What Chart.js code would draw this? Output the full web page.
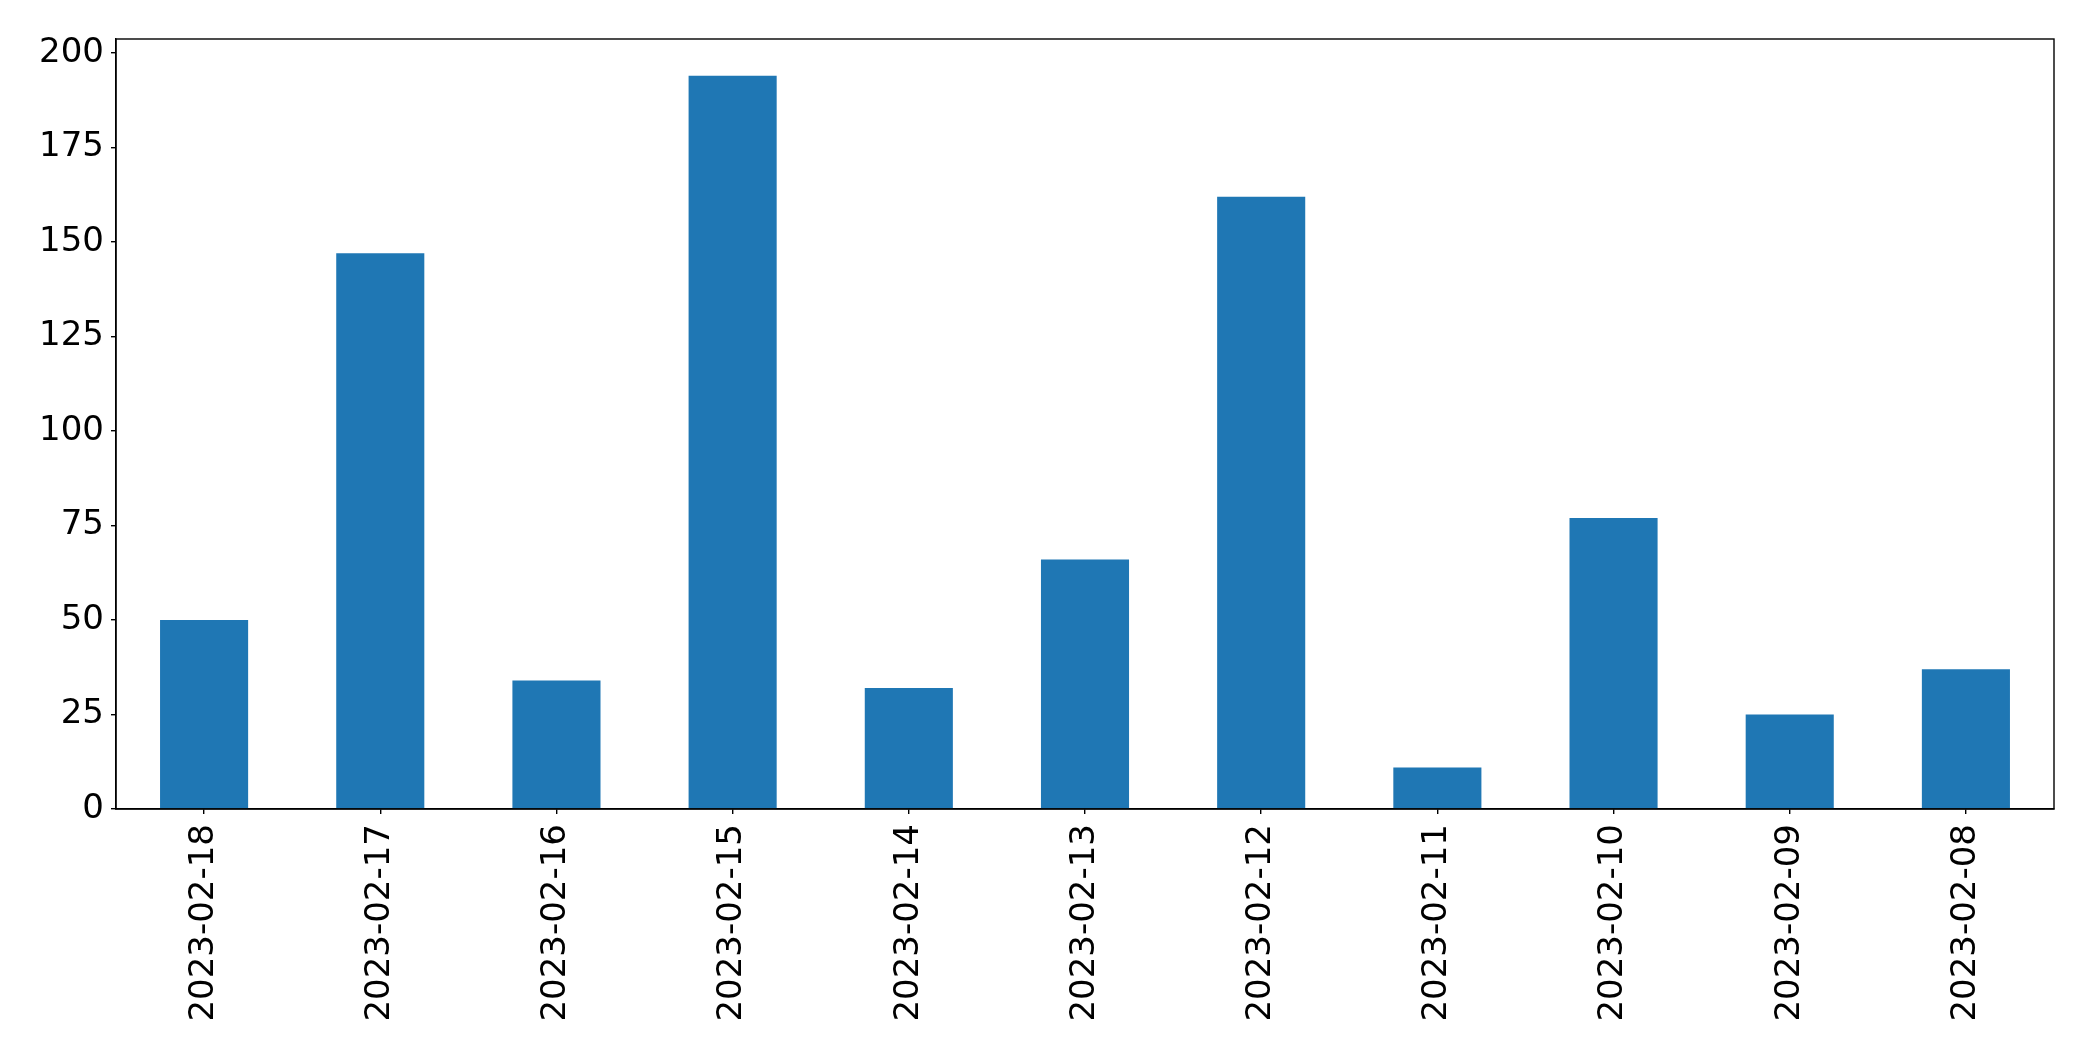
<!DOCTYPE html>
<html>
<head>
<meta charset="utf-8">
<script src="https://cdn.jsdelivr.net/npm/chart.js"></script>
<style>
  html, body { margin: 0; padding: 0; background: #fff; }
  #wrap { width: 2093px; height: 1061px; }
</style>
</head>
<body>
<div id="wrap"><canvas id="barChart" width="2093" height="1061"></canvas></div>
<script>
// data
const dates = ['2023-02-18', '2023-02-17', '2023-02-16', '2023-02-15', '2023-02-14', '2023-02-13',
               '2023-02-12', '2023-02-11', '2023-02-10', '2023-02-09', '2023-02-08'];
const counts = [50, 147, 34, 194, 32, 66, 162, 11, 77, 25, 37];
const yTicks = [0, 25, 50, 75, 100, 125, 150, 175, 200];
const yMax = 203.7;

// frame around the plot area (matplotlib style box)
const framePlugin = {
    id: 'frame',
    afterDraw(chart) {
        const { ctx, chartArea: a } = chart;
        ctx.save();
        ctx.strokeStyle = '#000';
        ctx.lineWidth = 1.4;
        ctx.strokeRect(a.left, a.top, a.right - a.left, a.bottom - a.top);
        ctx.restore();
    }
};

const tickFont = { family: 'DejaVu Sans', size: 34 };

new Chart(document.getElementById('barChart'), {
    type: 'bar',
    data: {
        labels: dates,
        datasets: [{
            data: counts,
            backgroundColor: '#1f77b4',
            borderWidth: 0,
            categoryPercentage: 1.0,
            barPercentage: 0.5
        }]
    },
    options: {
        responsive: false,
        animation: false,
        devicePixelRatio: 1,
        layout: { padding: { top: 39, right: 39, left: 0, bottom: 0 } },
        plugins: {
            legend: { display: false },
            tooltip: { enabled: false }
        },
        scales: {
            x: {
                grid: { display: true, offset: false, drawOnChartArea: false, drawTicks: true, tickLength: 5, color: '#000', lineWidth: 1.4 },
                border: { display: true, color: '#000', width: 1.4 },
                ticks: {
                    color: '#000',
                    font: tickFont,
                    minRotation: 90,
                    maxRotation: 90,
                    autoSkip: false,
                    padding: 10
                },
                afterFit(scale) { scale.height = 252; }
            },
            y: {
                min: 0,
                max: yMax,
                grid: { display: true, drawOnChartArea: false, drawTicks: true, tickLength: 5, color: '#000', lineWidth: 1.4 },
                border: { display: true, color: '#000', width: 1.4 },
                ticks: {
                    color: '#000',
                    font: tickFont,
                    includeBounds: false,
                    padding: 7
                },
                afterBuildTicks(scale) {
                    scale.ticks = yTicks.map(v => ({ value: v }));
                },
                afterFit(scale) { scale.width = 116; }
            }
        }
    },
    plugins: [framePlugin]
});
</script>
</body>
</html>
